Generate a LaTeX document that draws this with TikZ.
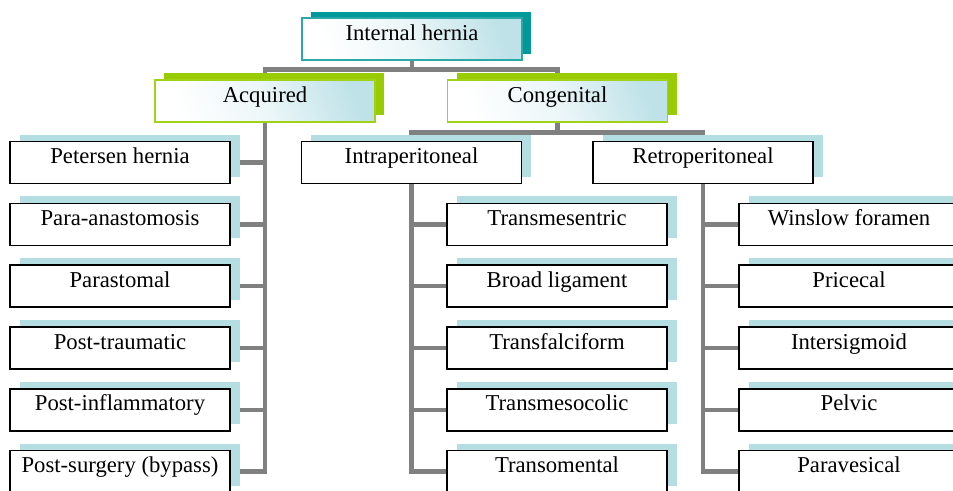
\documentclass[tikz,border=0pt]{standalone}
\usepackage{fontspec}
\setmainfont{Liberation Serif}
\usetikzlibrary{shadows,backgrounds}
\definecolor{tealsh}{RGB}{0,153,153}
\definecolor{tealbd}{RGB}{45,168,168}
\definecolor{greensh}{RGB}{153,204,0}
\definecolor{greenbd}{RGB}{160,210,25}
\definecolor{blsh}{RGB}{180,222,226}
\definecolor{gradblue}{RGB}{190,226,232}
\definecolor{conngray}{RGB}{128,128,128}
\tikzset{
  basebox/.style={rectangle, minimum width=220pt, minimum height=42pt, inner sep=0pt,
    text height=12pt, text depth=10pt, font=\fontsize{22.7}{26}\selectfont},
  gradfill/.style={top color=gradblue, bottom color=white, middle color=white!70!gradblue, shading angle=-70},
  topbox/.style={basebox, draw=tealbd, line width=1.3pt, gradfill,
    general shadow={fill=tealsh, shadow xshift=9pt, shadow yshift=6.5pt}},
  midbox/.style={basebox, draw=greenbd, line width=1.3pt, gradfill,
    general shadow={fill=greensh, shadow xshift=9pt, shadow yshift=7pt}},
  leafbox/.style={basebox, draw=black, line width=1.5pt, fill=white,
    general shadow={fill=blsh, shadow xshift=9.5pt, shadow yshift=7pt}},
  conn/.style={draw=conngray, line width=4.5pt}
}
\begin{document}
\begin{tikzpicture}[x=1pt,y=1pt]
\useasboundingbox (0,0) rectangle (953,-490);
\clip (0,0) rectangle (953,-490);
% top levels
\node[topbox] (ih) at (412,-39) {Internal hernia};
\node[midbox] (acq) at (265,-101) {Acquired};
\node[midbox] (cong) at (557.5,-101) {Congenital};
\node[leafbox] (intra) at (411.5,-162.6) {Intraperitoneal};
\node[leafbox] (retro) at (703,-162.6) {Retroperitoneal};
% acquired column
\node[leafbox] (l1) at (120,-162.6) {Petersen hernia};
\node[leafbox] (l2) at (120,-224.4) {Para-anastomosis};
\node[leafbox] (l3) at (120,-286.2) {Parastomal};
\node[leafbox] (l4) at (120,-348) {Post-traumatic};
\node[leafbox] (l5) at (120,-409.8) {Post-inflammatory};
\node[leafbox] (l6) at (120,-471.6) {Post-surgery (bypass)};
% intraperitoneal column
\node[leafbox] (m1) at (557,-224.4) {Transmesentric};
\node[leafbox] (m2) at (557,-286.2) {Broad ligament};
\node[leafbox] (m3) at (557,-348) {Transfalciform};
\node[leafbox] (m4) at (557,-409.8) {Transmesocolic};
\node[leafbox] (m5) at (557,-471.6) {Transomental};
% retroperitoneal column
\node[leafbox] (r1) at (849,-224.4) {Winslow foramen};
\node[leafbox] (r2) at (849,-286.2) {Pricecal};
\node[leafbox] (r3) at (849,-348) {Intersigmoid};
\node[leafbox] (r4) at (849,-409.8) {Pelvic};
\node[leafbox] (r5) at (849,-471.6) {Paravesical};
% connectors
\begin{scope}[on background layer]
\path (ih.south) ++(0,-9) coordinate (j1);
\draw[conn] (ih.south) -- (j1);
\draw[conn] (acq.north) |- (j1) -| (cong.north);
\path (cong.south) ++(0,-10) coordinate (j2);
\draw[conn] (cong.south) -- (j2);
\draw[conn] (intra.north) |- (j2) -| (retro.north);
\foreach \n in {l1,l2,l3,l4,l5,l6} \draw[conn] (acq.south) |- (\n.east);
\foreach \n in {m1,m2,m3,m4,m5} \draw[conn] (intra.south) |- (\n.west);
\foreach \n in {r1,r2,r3,r4,r5} \draw[conn] (retro.south) |- (\n.west);
\end{scope}
\end{tikzpicture}
\end{document}
